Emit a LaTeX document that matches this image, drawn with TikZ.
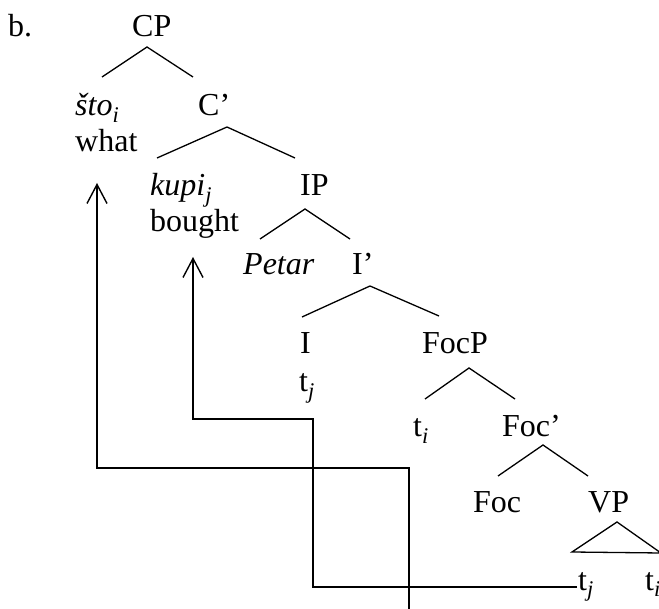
\documentclass[tikz,border=0pt]{standalone}
\usepackage{fontspec}
\setmainfont{Liberation Serif}
\usetikzlibrary{arrows.meta}
\begin{document}
\begin{tikzpicture}[x=1pt,y=-1pt,
  lbl/.style={anchor=base west,inner sep=0pt,font=\fontsize{32pt}{38pt}\selectfont},
  branch/.style={line width=1.3pt,line join=miter},
  move/.style={line width=2.4pt,line join=miter,-{Straight Barb[length=19pt,width=20pt,line width=1.4pt]}}]
\useasboundingbox (0,0) rectangle (659,609);
% labels
\node[lbl] (b) at (8,37) {b.};
\node[lbl] (cp) at (132,37) {CP};
\node[lbl] (sto) at (75,116) {\textit{što}\textsubscript{\textit{i}}};
\node[lbl] (cbar) at (198,116) {C’};
\node[lbl] (what) at (75,152) {what};
\node[lbl] (kupi) at (150,196) {\textit{kupi}\textsubscript{\textit{j}}};
\node[lbl] (ip) at (300,196) {IP};
\node[lbl] (bought) at (150,232) {bought};
\node[lbl] (petar) at (243,275) {\textit{Petar}};
\node[lbl] (ibar) at (352,275) {I’};
\node[lbl] (i) at (300,354) {I};
\node[lbl] (tja) at (299,392) {t\textsubscript{\textit{j}}};
\node[lbl] (focp) at (422,354) {FocP};
\node[lbl] (tia) at (413,437) {t\textsubscript{\textit{i}}};
\node[lbl] (focbar) at (502,437) {Foc’};
\node[lbl] (foc) at (473,513) {Foc};
\node[lbl] (vp) at (588,513) {VP};
\node[lbl] (tjb) at (578,590) {t\textsubscript{\textit{j}}};
\node[lbl] (tib) at (645,590) {t\textsubscript{\textit{i}}};
% branch points
\coordinate (cpA) at (147,47);  \coordinate (cpL) at (102,77);  \coordinate (cpR) at (193,77);
\coordinate (cbA) at (227,127); \coordinate (cbL) at (157,158); \coordinate (cbR) at (295,158);
\coordinate (ipA) at (305,209); \coordinate (ipL) at (260,239); \coordinate (ipR) at (350,239);
\coordinate (ibA) at (370,286); \coordinate (ibL) at (302,317); \coordinate (ibR) at (439,316);
\coordinate (fpA) at (469,368); \coordinate (fpL) at (425,399); \coordinate (fpR) at (515,399);
\coordinate (fbA) at (543,445); \coordinate (fbL) at (498,476); \coordinate (fbR) at (588,476);
\coordinate (vpA) at (617,522); \coordinate (vpL) at (572,552); \coordinate (vpR) at (661,553);
\draw[branch] (cpL) -- (cpA) -- (cpR);
\draw[branch] (cbL) -- (cbA) -- (cbR);
\draw[branch] (ipL) -- (ipA) -- (ipR);
\draw[branch] (ibL) -- (ibA) -- (ibR);
\draw[branch] (fpL) -- (fpA) -- (fpR);
\draw[branch] (fbL) -- (fbA) -- (fbR);
\draw[branch] (vpR) -- (vpA) -- (vpL) -- (vpR);
% movement arrows
\coordinate (m1s) at (409,610); \coordinate (m1c) at (409,468);
\coordinate (m1d) at (97,468);  \coordinate (m1t) at (97,183);
\draw[move] (m1s) -- (m1c) -- (m1d) -- (m1t);
\coordinate (m2s) at (577,587); \coordinate (m2c) at (313,587);
\coordinate (m2d) at (313,419); \coordinate (m2e) at (193,419);
\coordinate (m2t) at (193,257);
\draw[move] (m2s) -- (m2c) -- (m2d) -- (m2e) -- (m2t);
\end{tikzpicture}
\end{document}
